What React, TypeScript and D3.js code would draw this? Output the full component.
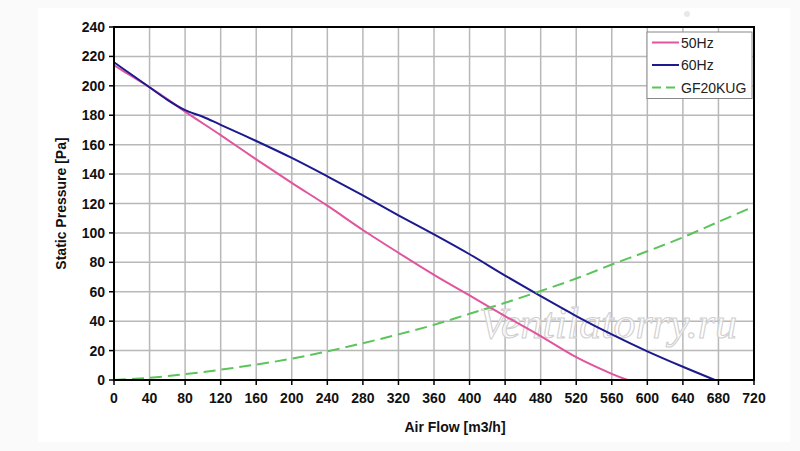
import React from "react";
import * as d3 from "d3";

const xTicks = [0, 40, 80, 120, 160, 200, 240, 280, 320, 360, 400, 440, 480, 520, 560, 600, 640, 680, 720];
const yTicks = [0, 20, 40, 60, 80, 100, 120, 140, 160, 180, 200, 220, 240];

const hz50X = [0, 20, 40, 60, 80, 120, 160, 200, 240, 280, 320, 360, 400, 440, 480, 520, 560, 578];
const hz50Y = [214, 206.5, 199, 191, 182.5, 166.5, 150, 134, 118.5, 102, 86.5, 71.5, 57.5, 43.5, 29.8, 15.5, 4.2, 0];

const hz60X = [0, 20, 40, 60, 80, 100, 120, 160, 200, 240, 280, 320, 360, 400, 440, 480, 520, 560, 600, 640, 676];
const hz60Y = [216, 207.5, 199, 190.5, 183.5, 179, 173.5, 162.5, 151, 138.5, 125.5, 112, 99, 85.5, 71, 57, 43.5, 31, 19.5, 9, 0];

const gfX = [0, 40, 80, 120, 160, 200, 240, 280, 320, 360, 400, 440, 480, 520, 560, 600, 640, 680, 720];
const gfY = [0, 1.5, 4, 7, 10.5, 14.5, 19.5, 25, 31, 37.5, 45, 52.5, 60.5, 69, 78.5, 87.5, 97, 107.5, 118];

const seriesNames = ["50Hz", "60Hz", "GF20KUG"];

export default function App() {
  const W = 800, H = 451;
  const x = d3.scaleLinear().domain([0, 720]).range([114, 754]);
  const y = d3.scaleLinear().domain([0, 240]).range([380, 27]);
  const line = d3.line<[number, number]>().x(d => x(d[0])).y(d => y(d[1])).curve(d3.curveCatmullRom.alpha(0.5));
  const zip = (a: number[], b: number[]) => a.map((v, i) => [v, b[i]] as [number, number]);
  const font = "'Liberation Sans', Arial, sans-serif";
  const series = [
    { name: seriesNames[0], d: line(zip(hz50X, hz50Y)) || "", color: "#e0559e", dash: undefined },
    { name: seriesNames[1], d: line(zip(hz60X, hz60Y)) || "", color: "#1c1a8e", dash: undefined },
    { name: seriesNames[2], d: line(zip(gfX, gfY)) || "", color: "#5cc45a", dash: "12 6" },
  ];
  return (
    <svg width={W} height={H} style={{ position: "absolute", left: 0, top: 0, display: "block" }} fontFamily={font}>
      <rect x={0} y={0} width={W} height={H} fill="#fafafa" />
      <rect x={38} y={8} width={752} height={434} fill="#ffffff" />
      <circle cx={687} cy={14} r={3} fill="#e8e8e8" />
      {xTicks.map(t => (
        <line key={"gx" + t} x1={x(t)} x2={x(t)} y1={y(240)} y2={y(0)} stroke="#b8b8b8" strokeWidth={1.5} />
      ))}
      {yTicks.map(t => (
        <line key={"gy" + t} x1={x(0)} x2={x(720)} y1={y(t)} y2={y(t)} stroke="#b8b8b8" strokeWidth={1.5} />
      ))}
      <text x={608} y={338} fontSize={44} fontStyle="italic" fontFamily="'Liberation Serif', serif" fill="#ffffff" fillOpacity={0.75} stroke="#d0d0d0" strokeWidth={1.1} textAnchor="middle">Ventilatorry.ru</text>
      {series.map(s => (
        <path key={s.name} d={s.d} fill="none" stroke={s.color} strokeWidth={2} strokeDasharray={s.dash} />
      ))}
      <rect x={x(0)} y={y(240)} width={x(720) - x(0)} height={y(0) - y(240)} fill="none" stroke="#000" strokeWidth={2} />
      {xTicks.map(t => (
        <g key={"xt" + t}>
          <line x1={x(t)} x2={x(t)} y1={y(0)} y2={y(0) + 5} stroke="#000" strokeWidth={1.5} />
          <text x={x(t)} y={y(0) + 23} fontSize={14} fontWeight="bold" textAnchor="middle" fill="#111">{t}</text>
        </g>
      ))}
      {yTicks.map(t => (
        <g key={"yt" + t}>
          <line x1={x(0) - 5} x2={x(0)} y1={y(t)} y2={y(t)} stroke="#000" strokeWidth={1.5} />
          <text x={x(0) - 9} y={y(t) + 5} fontSize={14} fontWeight="bold" textAnchor="end" fill="#111">{t}</text>
        </g>
      ))}
      <text x={455} y={432} fontSize={14} fontWeight="bold" textAnchor="middle" fill="#111">Air Flow [m3/h]</text>
      <text transform={`translate(66,${y(120)}) rotate(-90)`} fontSize={14} fontWeight="bold" textAnchor="middle" fill="#111">Static Pressure [Pa]</text>
      <rect x={647} y={32} width={105} height={66.5} fill="#fff" stroke="#888" strokeWidth={1} />
      {series.map((s, i) => (
        <g key={"lg" + s.name}>
          <line x1={652} x2={679} y1={42.5 + i * 22.5} y2={42.5 + i * 22.5} stroke={s.color} strokeWidth={2} strokeDasharray={s.dash ? "9 5" : undefined} />
          <text x={681} y={47.5 + i * 22.5} fontSize={14} fill="#222">{s.name}</text>
        </g>
      ))}
    </svg>
  );
}
